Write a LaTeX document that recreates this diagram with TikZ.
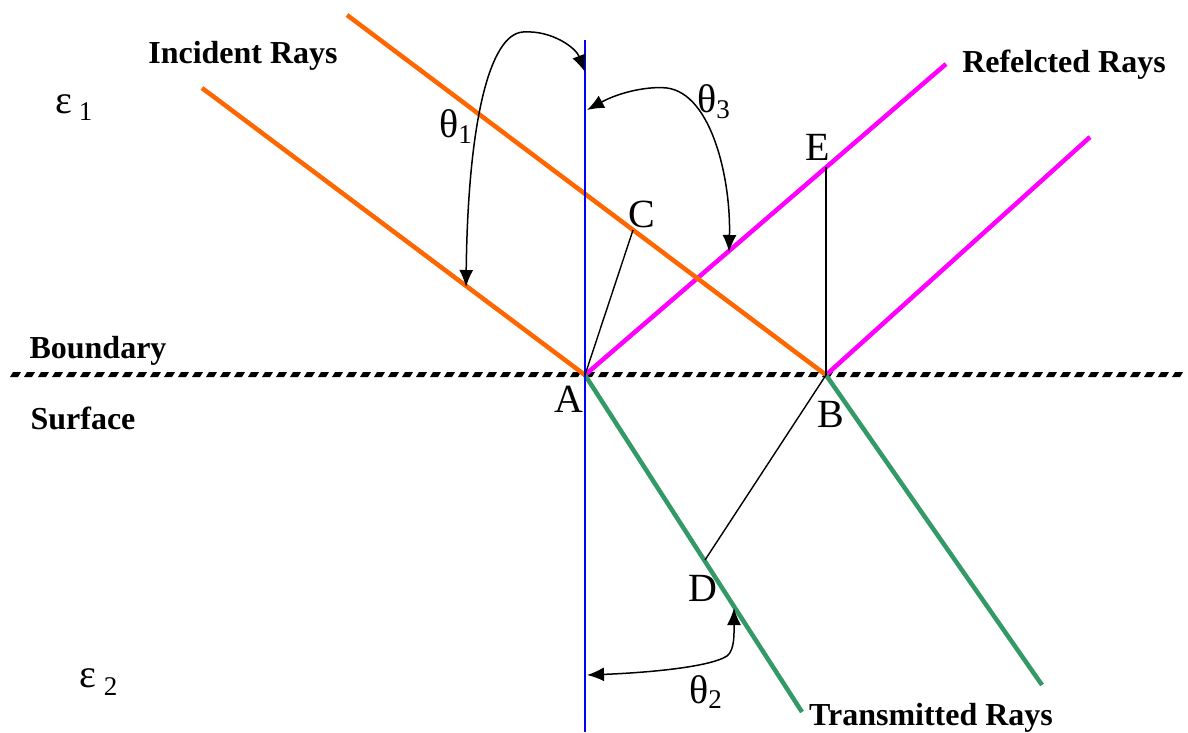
\documentclass[tikz,border=0pt]{standalone}
\usepackage{fontspec}
\setmainfont{Liberation Serif}
\usetikzlibrary{arrows.meta}
\definecolor{rayorange}{RGB}{255,102,0}
\definecolor{raymagenta}{RGB}{255,0,255}
\definecolor{raygreen}{RGB}{51,153,102}
\definecolor{normalblue}{RGB}{0,0,255}
\begin{document}
\begin{tikzpicture}[x=1pt,y=-1pt,
  incray/.style={rayorange,line width=4.5pt},
  refray/.style={raymagenta,line width=4.5pt},
  traray/.style={raygreen,line width=4.5pt},
  normline/.style={normalblue,line width=2pt},
  thin line/.style={black,line width=1.4pt},
  anglearrow/.style={black,line width=1.5pt,{Latex[length=17pt,width=14pt]}-{Latex[length=17pt,width=14pt]}},
  ptlabel/.style={font=\fontsize{40}{40}\selectfont,inner sep=0pt,anchor=base},
  greeklabel/.style={font=\fontsize{40}{40}\selectfont,inner sep=0pt,anchor=base west},
  titlelabel/.style={font=\bfseries\fontsize{32}{32}\selectfont,inner sep=0pt,anchor=base},
  boundarydash/.style={fill=black}
]
\useasboundingbox (0,0) rectangle (1188,732);

% points
\coordinate (A) at (585,375);
\coordinate (B) at (826,375);
\coordinate (C) at (633,230);
\coordinate (E) at (826,167);
\coordinate (D) at (705,560);
\coordinate (i1) at (202,88);
\coordinate (i2) at (347,15);
\coordinate (r1) at (946,64);
\coordinate (r2) at (1090,137);
\coordinate (t1) at (802,712);
\coordinate (t2) at (1042,685);
\coordinate (n1) at (585,40);
\coordinate (n2) at (585,732);

% boundary surface (slanted dashes)
\foreach \x in {10,24,...,1180}{
  \fill[boundarydash] (\x,377) -- (\x+8,377) -- (\x+11,372) -- (\x+3,372) -- cycle;
}

% rays
\draw[refray] (A) -- (r1);
\draw[refray] (B) -- (r2);
\draw[incray] (i1) -- (A);
\draw[incray] (i2) -- (B);
\draw[traray] (A) -- (t1);
\draw[traray] (B) -- (t2);
\draw[normline] (n1) -- (n2);

% construction lines
\draw[thin line] (A) -- (C);
\draw[thin line] (B) -- (E);
\draw[thin line] (B) -- (D);

% angle arrows
\coordinate (a1s) at (466,287);
\coordinate (a1e) at (585,72);
\draw[anglearrow] (a1s) .. controls (468,120) and (490,34) .. (523,32) .. controls (552,30) and (576,48) .. (a1e);
\coordinate (a3s) at (587,110);
\coordinate (a3e) at (729,252);
\draw[anglearrow] (a3s) .. controls (620,92) and (648,86) .. (667,88) .. controls (712,94) and (731,180) .. (a3e);
\coordinate (a2s) at (587,675);
\coordinate (a2e) at (734,608);
\draw[anglearrow] (a2s) .. controls (640,673) and (708,668) .. (727,656) .. controls (735,650) and (734,632) .. (a2e);

% point labels
\node[ptlabel] (lA) at (569,412) {A};
\node[ptlabel] (lB) at (831,427) {B};
\node[ptlabel] (lC) at (642,227) {C};
\node[ptlabel] (lD) at (703,601) {D};
\node[ptlabel] (lE) at (818,160) {E};

% angle labels
\node[greeklabel] (th1) at (439,137) {θ\raisebox{-6pt}{\fontsize{27}{27}\selectfont 1}};
\node[greeklabel] (th3) at (697,112) {θ\raisebox{-6pt}{\fontsize{27}{27}\selectfont 3}};
\node[greeklabel] (th2) at (689,703) {θ\raisebox{-5pt}{\fontsize{27}{27}\selectfont 2}};

% media labels
\node[greeklabel] (eps1) at (55,113) {ε\hspace{7pt}\raisebox{-7pt}{\fontsize{27}{27}\selectfont 1}};
\node[greeklabel] (eps2) at (79,687) {ε\hspace{8pt}\raisebox{-8pt}{\fontsize{27}{27}\selectfont 2}};

% titles
\node[titlelabel] (tinc) at (243,63) {Incident Rays};
\node[titlelabel] (tref) at (1064,72) {Refelcted Rays};
\node[titlelabel] (tbound) at (98,358) {Boundary};
\node[titlelabel] (tsurf) at (83,429) {Surface};
\node[titlelabel] (ttra) at (931,725) {Transmitted Rays};
\end{tikzpicture}
\end{document}
